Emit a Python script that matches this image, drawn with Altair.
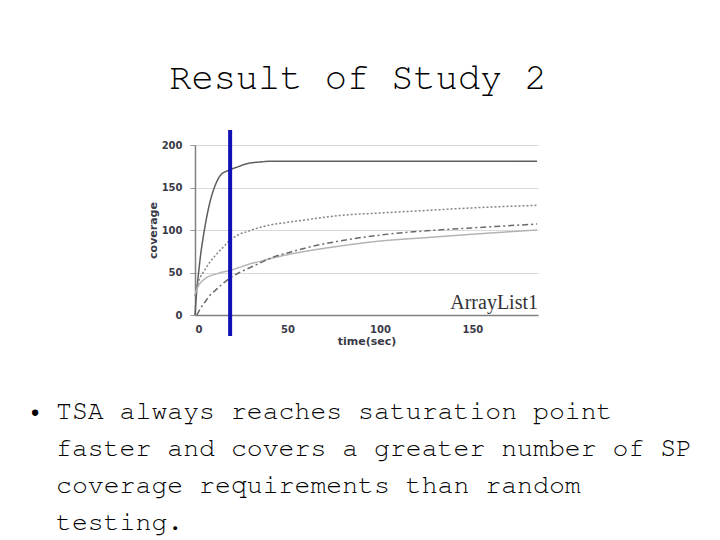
import altair as alt
import pandas as pd

# ---- data ----
time = [0, 1, 2, 3, 5, 8, 11, 14, 18, 24, 28, 35, 42, 50, 60, 78, 100, 125, 150, 185]
series_1 = [0, 30, 51, 70, 99, 132, 153, 165, 170, 175, 178, 180, 181, 181, 181, 181, 181, 181, 181, 181]
series_2 = [22, 33, 40, 45, 52, 62, 70, 77, 86, 95, 98, 103, 106.5, 109, 112, 117, 120, 123, 126, 129]
series_3 = [24, 30, 35, 38, 42, 46, 48, 50, 52, 56, 59, 63, 67, 71, 75, 81, 87, 91, 95, 100]
series_4 = [None, 0, 4, 8, 14, 23, 29, 35, 42, 50, 54, 61, 68, 73, 79, 87, 94, 99, 102.5, 107]
series_names = ["series 1", "series 2", "series 3", "series 4"]
marker_time = [19]

y_ticks = [0, 50, 100, 150, 200]
x_ticks = [0, 50, 100, 150]

title_text = "Result of Study 2"
panel_label = "ArrayList1"
bullet_lines = [
    "TSA always reaches saturation point",
    "faster and covers a greater number of SP",
    "coverage requirements than random",
    "testing.",
]

MONO = "'Nimbus Mono PS', 'FreeMono', 'Courier New', 'Courier', 'Liberation Mono', monospace"

# ---- build table ----
rows = []
for name, vals in zip(series_names, [series_1, series_2, series_3, series_4]):
    for t, v in zip(time, vals):
        if v is not None:
            rows.append({"time": t, "coverage": v, "series": name})
df = pd.DataFrame(rows)

W, H = 343, 170

x_scale = alt.Scale(domain=[0, 185.5], nice=False, zero=False)
y_scale = alt.Scale(domain=[0, 200], nice=False)

lines = alt.Chart(df).mark_line(strokeWidth=1.5, interpolate="monotone").encode(
    x=alt.X("time:Q", scale=x_scale,
            axis=alt.Axis(values=x_ticks, title="time(sec)", grid=False, ticks=False,
                          labelPadding=9, titlePadding=1)),
    y=alt.Y("coverage:Q", scale=y_scale,
            axis=alt.Axis(values=y_ticks, title="coverage", grid=True, tickSize=5,
                          labelPadding=8, titlePadding=3)),
    color=alt.Color("series:N", legend=None,
                    scale=alt.Scale(domain=series_names,
                                    range=["#5e5e5e", "#858585", "#b4b4b4", "#6a6a6a"])),
    strokeDash=alt.StrokeDash("series:N", legend=None,
                              scale=alt.Scale(domain=series_names,
                                              range=[[1, 0], [2, 2], [1, 0], [6, 3, 2, 3]])),
)

marker = alt.Chart(pd.DataFrame({"time": marker_time})).mark_rule(
    color="#1010b4", strokeWidth=4
).encode(x=alt.X("time:Q", scale=x_scale), y=alt.value(-15), y2=alt.value(191))

label = alt.Chart(pd.DataFrame({"t": [185.5], "c": [7], "txt": [panel_label]})).mark_text(
    align="right", baseline="alphabetic", font="Liberation Serif", fontSize=20, color="#333333"
).encode(x=alt.X("t:Q", scale=x_scale), y=alt.Y("c:Q", scale=y_scale), text="txt:N")

title = alt.Chart(pd.DataFrame({"txt": [title_text]})).mark_text(
    align="center", baseline="alphabetic", font=MONO, fontSize=37, color="black"
).encode(x=alt.value(163), y=alt.value(-56), text="txt:N")

bullet = alt.Chart(pd.DataFrame({"txt": ["•"]})).mark_text(
    align="center", baseline="middle", font=MONO, fontSize=22, color="black"
).encode(x=alt.value(-160), y=alt.value(266), text="txt:N")

body = alt.Chart(pd.DataFrame({"k": [0]})).mark_text(
    align="left", baseline="alphabetic", font=MONO, fontSize=26.5,
    lineHeight=37, color="black"
).encode(x=alt.value(-139), y=alt.value(274), text=alt.value(bullet_lines))

chart = alt.layer(lines, marker, label, title, bullet, body).properties(
    width=W, height=H,
    autosize=alt.AutoSizeParams(type="none"),
    padding={"left": 187, "top": 137, "right": 174, "bottom": 225},
    background="white",
).configure_view(stroke=None).configure_axis(
    labelFont="DejaVu Sans", labelFontWeight="bold", labelFontSize=10, labelColor="#3a3a48",
    titleFont="DejaVu Sans", titleFontWeight="bold", titleFontSize=11, titleColor="#3a3a48",
    domainColor="#808080", domainWidth=1.5, tickColor="#9a9a9a",
    gridColor="#d9d9d9", gridWidth=1,
)

chart.save("out.html", embed_options={"renderer": "svg", "actions": False})
